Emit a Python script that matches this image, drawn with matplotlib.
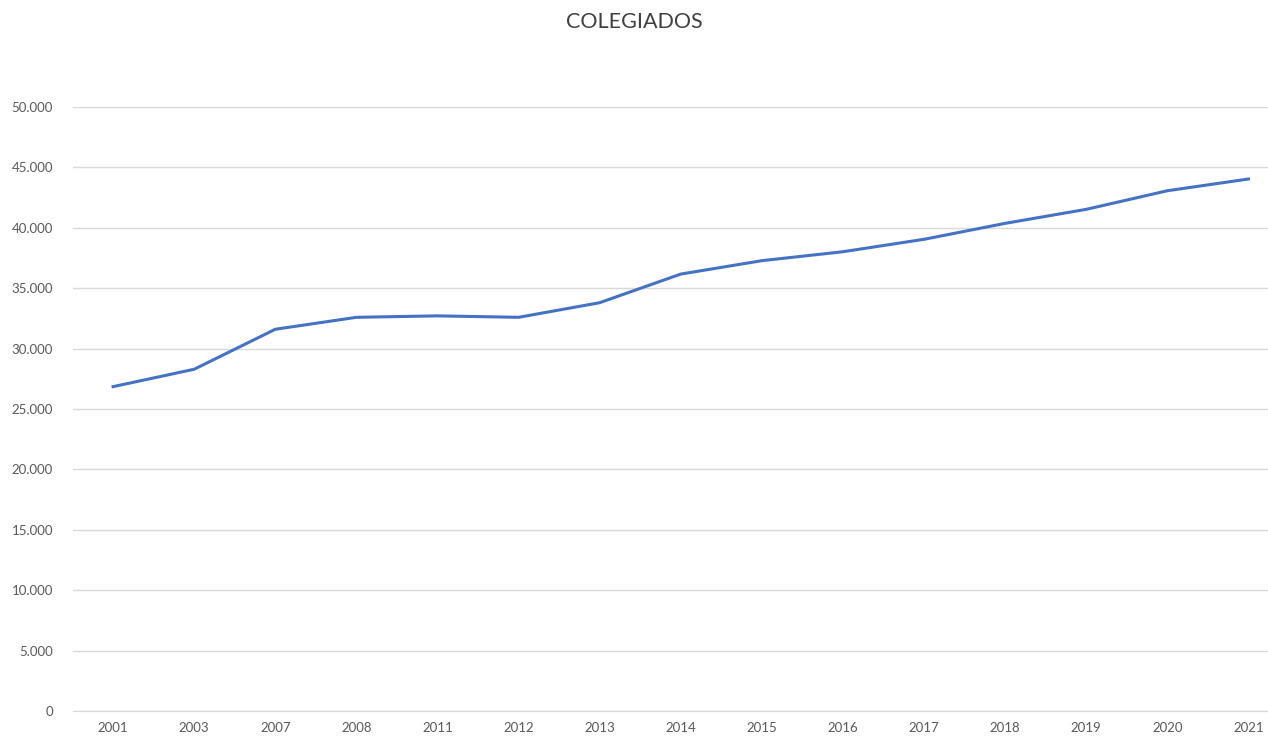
import matplotlib.pyplot as plt
from matplotlib.ticker import FuncFormatter

years = ['2001', '2003', '2007', '2008', '2011', '2012', '2013', '2014',
         '2015', '2016', '2017', '2018', '2019', '2020', '2021']
colegiados = [26850, 28290, 31600, 32590, 32710, 32590, 33800, 36170,
              37280, 38020, 39050, 40370, 41530, 43070, 44040]

plt.rcParams['font.family'] = ['Lato', 'DejaVu Sans']
text_color = '#595959'

fig = plt.figure(figsize=(12.68, 7.37), dpi=100)
ax = fig.add_axes([0.0572, 0.0353, 0.9594, 0.8195])

ax.plot(range(len(years)), colegiados, color='#4472C4', linewidth=2.2)

ax.set_xlim(-0.5, len(years) - 0.5)
ax.set_ylim(0, 50000)
ax.set_yticks(range(0, 50001, 5000))
ax.yaxis.set_major_formatter(FuncFormatter(lambda v, p: f'{int(v):,}'.replace(',', '.')))
ax.set_xticks(range(len(years)))
ax.set_xticklabels(years)

ax.grid(axis='y', color='#D9D9D9', linewidth=1)
ax.set_axisbelow(True)
for s in ['top', 'right', 'left']:
    ax.spines[s].set_visible(False)
ax.spines['bottom'].set_color('#D9D9D9')
ax.tick_params(axis='both', length=0, labelsize=9.5, labelcolor=text_color)
ax.tick_params(axis='y', pad=14)
ax.tick_params(axis='x', pad=8)

# titulo algo mas ancho, como en el original
fig.text(0.5, 0.97, 'COLEGIADOS', ha='center', va='center', fontsize=15.5,
         color='#404040')

fig.savefig('out.png', dpi=100)
